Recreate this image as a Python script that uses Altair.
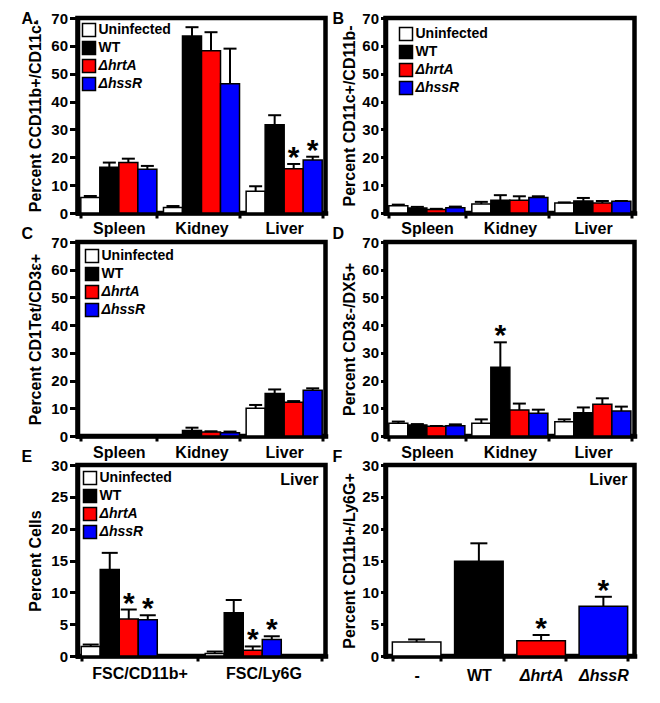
import altair as alt
import pandas as pd

FONT = "Liberation Sans"
SERIES = ["Uninfected", "WT", "ΔhrtA", "ΔhssR"]
COLORS = ["#FFFFFF", "#000000", "#FF0000", "#0000FF"]

organs = ["Spleen", "Kidney", "Liver"]
liver_groups = ["FSC/CD11b+", "FSC/Ly6G"]
f_cats = ["-", "WT", "ΔhrtA", "ΔhssR"]

# Panel A: CD11b+/CD11c-
a_mean = [[5.6, 16.4, 18.1, 15.7], [2.0, 63.5, 58.2, 46.4], [7.8, 31.7, 15.9, 19.0]]
a_err = [[0.5, 1.7, 1.4, 1.2], [0.5, 3.2, 6.7, 12.6], [1.8, 3.4, 1.7, 1.2]]
a_sig = [[0, 0, 0, 0], [0, 0, 0, 0], [0, 0, 1, 1]]

# Panel B: CD11c+/CD11b-
b_mean = [[2.6, 1.8, 1.3, 1.9], [3.2, 4.6, 4.6, 5.6], [3.6, 4.3, 3.6, 4.2]]
b_err = [[0.4, 0.4, 0.2, 0.4], [0.8, 1.8, 1.4, 0.4], [0.2, 1.1, 0.7, 0.1]]
b_sig = [[0, 0, 0, 0], [0, 0, 0, 0], [0, 0, 0, 0]]

# Panel C: CD1Tet/CD3e+
c_mean = [[0, 0, 0, 0], [0, 2.0, 1.4, 1.2], [10.0, 15.3, 12.2, 16.5]]
c_err = [[0, 0, 0, 0], [0, 1.0, 0.3, 0.4], [1.2, 1.5, 0.4, 0.7]]
c_sig = [[0, 0, 0, 0], [0, 0, 0, 0], [0, 0, 0, 0]]

# Panel D: CD3e-/DX5+
d_mean = [[4.6, 4.0, 3.5, 3.7], [4.6, 24.8, 9.4, 8.2], [5.1, 8.4, 11.5, 9.0]]
d_err = [[0.6, 0.3, 0.1, 0.5], [1.4, 9.0, 2.3, 1.3], [0.9, 1.9, 2.1, 1.6]]
d_sig = [[0, 0, 0, 0], [0, 1, 0, 0], [0, 0, 0, 0]]

# Panel E: Liver, percent cells
e_mean = [[1.5, 13.6, 5.8, 5.7], [0.4, 6.8, 0.9, 2.6]]
e_err = [[0.3, 2.6, 1.5, 0.7], [0.3, 2.0, 0.6, 0.5]]
e_sig = [[0, 0, 1, 1], [0, 0, 1, 1]]

# Panel F: Liver, CD11b+/Ly6G+
f_mean = [2.2, 14.9, 2.4, 7.8]
f_err = [0.4, 2.8, 0.9, 1.5]
f_sig = [0, 0, 1, 1]

yticks70 = [0, 10, 20, 30, 40, 50, 60, 70]
yticks30 = [0, 5, 10, 15, 20, 25, 30]

ITALIC_EXPR = "indexof(datum.label, 'Δ') >= 0 ? 'italic' : 'normal'"


def label_layer(text, px, py, align="left", size=16):
    return alt.Chart(pd.DataFrame({"t": [text]})).mark_text(
        font=FONT, fontSize=size, fontWeight="bold", align=align,
        baseline="alphabetic", color="black").encode(
        text="t:N", x=alt.value(px), y=alt.value(py))


def panel(letter, groups, means, errs, sigs, ytitle, yvals, width, height,
          legend_xy=None, offset=True, pad_inner=0.08, pad_outer=0.04,
          x_label_pad=2, cap=13, letter_dx=-56, letter_dy=-3, annot=None,
          y_tick=8, title_pad=7):
    rows = []
    if offset:
        for gi, g in enumerate(groups):
            for si, s in enumerate(SERIES):
                rows.append(dict(group=g, series=s, mean=means[gi][si],
                                 err=errs[gi][si], top=means[gi][si] + errs[gi][si],
                                 sig=sigs[gi][si]))
    else:
        for gi, g in enumerate(groups):
            rows.append(dict(group=g, series=SERIES[gi], mean=means[gi],
                             err=errs[gi], top=means[gi] + errs[gi], sig=sigs[gi]))
    df = pd.DataFrame(rows)
    base = alt.Chart(df)

    x_axis = alt.Axis(labelAngle=0, labelPadding=x_label_pad, tickSize=5,
                      tickBand="extent", labelFontSize=16,
                      labelFontStyle={"condition": {"test": "indexof(datum.label, 'Δ') >= 0",
                                                    "value": "italic"}, "value": "normal"})
    x = alt.X("group:N", sort=groups, title=None,
              scale=alt.Scale(paddingInner=pad_inner, paddingOuter=pad_outer),
              axis=x_axis)
    yscale = alt.Scale(domain=[yvals[0], yvals[-1]], nice=False)
    y_axis = alt.Axis(values=yvals, title=ytitle, tickSize=y_tick, labelPadding=2,
                      titlePadding=title_pad)
    enc = dict(x=x)
    if offset:
        enc["xOffset"] = alt.XOffset("series:N", sort=SERIES,
                                     scale=alt.Scale(paddingInner=0, paddingOuter=0))

    if legend_xy is None:
        legend = None
    else:
        legend = alt.Legend(orient="none", legendX=legend_xy[0], legendY=legend_xy[1],
                            title=None, symbolType="square", symbolSize=169,
                            symbolStrokeColor="black", symbolStrokeWidth=1.5,
                            labelFont=FONT, labelFontSize=14, labelFontWeight="bold",
                            labelColor="black", labelOffset=2, rowPadding=-1, padding=0,
                            labelFontStyle={"expr": ITALIC_EXPR})
    color = alt.Color("series:N", sort=SERIES,
                      scale=alt.Scale(domain=SERIES, range=COLORS), legend=legend)

    bars = base.mark_bar(stroke="black", strokeWidth=1.5).encode(
        y=alt.Y("mean:Q", scale=yscale, axis=y_axis), color=color, **enc)
    err = base.transform_filter("datum.err > 0").mark_rule(
        color="black", strokeWidth=2).encode(
        y=alt.Y("mean:Q", scale=yscale, axis=y_axis), y2="top:Q", **enc)
    caps = base.transform_filter("datum.err > 0").mark_tick(
        color="black", thickness=2, size=cap, opacity=1, orient="horizontal").encode(
        y=alt.Y("top:Q", scale=yscale, axis=y_axis), **enc)
    stars = base.transform_filter("datum.sig == 1").mark_text(
        text="*", font=FONT, fontSize=30, fontWeight="bold", baseline="alphabetic",
        dy=3, color="black").encode(
        y=alt.Y("top:Q", scale=yscale, axis=y_axis), **enc)
    layers = [bars, err, caps, stars, label_layer(letter, letter_dx, letter_dy)]
    if annot is not None:
        layers.append(label_layer(annot, width - 7, 20, align="right"))
    return alt.layer(*layers).properties(width=width, height=height)


WL, WR = 248, 249
A = panel("A.", organs, a_mean, a_err, a_sig, "Percent CCD11b+/CD11c-", yticks70,
          WL, 195, legend_xy=(4, 4.5), letter_dy=6)
B = panel("B", organs, b_mean, b_err, b_sig, "Percent CD11c+/CD11b-", yticks70,
          WR, 195, legend_xy=(13, 8.5), letter_dx=-53, letter_dy=6, y_tick=5,
          title_pad=4)
C = panel("C", organs, c_mean, c_err, c_sig, "Percent CD1Tet/CD3ε+", yticks70,
          WL, 194, legend_xy=(7, 6.5), x_label_pad=3)
D = panel("D", organs, d_mean, d_err, d_sig, "Percent CD3ε-/DX5+", yticks70,
          WR, 194, letter_dx=-53, y_tick=5, title_pad=4, x_label_pad=3)
E = panel("E", liver_groups, e_mean, e_err, e_sig, "Percent Cells", yticks30,
          WL, 191, legend_xy=(5, 5.5), pad_inner=0.06, pad_outer=0.03, cap=16,
          annot="Liver", x_label_pad=4)
F = panel("F", f_cats, f_mean, f_err, f_sig, "Percent CD11b+/Ly6G+", yticks30,
          WR, 191, offset=False, pad_inner=0.22, pad_outer=0.11, cap=17,
          annot="Liver", letter_dx=-53, y_tick=5, title_pad=4, x_label_pad=6)

chart = alt.concat(A, B, C, D, E, F, columns=2, spacing={"row": 29, "column": 60},
                   bounds="flush").resolve_scale(color="independent").properties(
    padding={"left": 10.5, "top": 0, "right": 5, "bottom": 5}
).configure(font=FONT).configure_view(
    stroke="black", strokeWidth=4.5
).configure_axis(
    domainColor="black", domainWidth=4.5, domainCap="square", tickColor="black",
    tickWidth=3, labelFont=FONT, labelFontSize=15, labelFontWeight="bold",
    labelColor="black", titleFont=FONT, titleFontSize=16, titleFontWeight="bold",
    titleColor="black", grid=False, zindex=1
)

chart.save("out.html", embed_options={"renderer": "svg", "actions": False})
